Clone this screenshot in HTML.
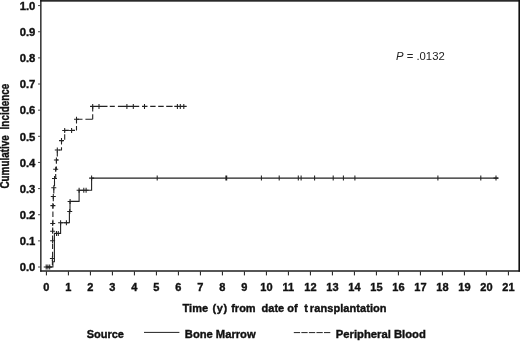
<!DOCTYPE html>
<html><head><meta charset="utf-8"><title>Cumulative Incidence</title>
<style>
html,body{margin:0;padding:0;background:#fff;}
body{width:520px;height:341px;overflow:hidden;position:relative;}
svg{display:block;position:absolute;left:0;top:0;}
text{font-family:"Liberation Sans",Arial,Helvetica,sans-serif;fill:#111;}
.b{font-weight:bold;font-size:11px;stroke:#111;stroke-width:0.38px;}
.p{font-size:11.3px;fill:#222;}
</style></head><body>
<svg width="520" height="341" viewBox="0 0 520 341">
<rect x="0" y="0" width="520" height="341" fill="#fff"/>

<g fill="#111">
<rect x="40.2" y="0" width="479.8" height="1.7" fill="#2a2a2a"/>
<rect x="518.4" y="0" width="1.6" height="271.7"/>
<rect x="40.2" y="0" width="1.3" height="271.7"/>
<rect x="40.2" y="270.3" width="479.8" height="1.4"/>
</g>
<g stroke="#333" stroke-width="0.9" fill="none">
<line x1="38" y1="267.00" x2="40.5" y2="267.00"/>
<line x1="38" y1="240.86" x2="40.5" y2="240.86"/>
<line x1="38" y1="214.72" x2="40.5" y2="214.72"/>
<line x1="38" y1="188.58" x2="40.5" y2="188.58"/>
<line x1="38" y1="162.44" x2="40.5" y2="162.44"/>
<line x1="38" y1="136.30" x2="40.5" y2="136.30"/>
<line x1="38" y1="110.16" x2="40.5" y2="110.16"/>
<line x1="38" y1="84.02" x2="40.5" y2="84.02"/>
<line x1="38" y1="57.88" x2="40.5" y2="57.88"/>
<line x1="38" y1="31.74" x2="40.5" y2="31.74"/>
<line x1="38" y1="5.60" x2="40.5" y2="5.60"/>
</g><g stroke="#151515" stroke-width="1" fill="none">
<line x1="46.40" y1="271.5" x2="46.40" y2="275.4"/>
<line x1="68.40" y1="271.5" x2="68.40" y2="275.4"/>
<line x1="90.40" y1="271.5" x2="90.40" y2="275.4"/>
<line x1="112.40" y1="271.5" x2="112.40" y2="275.4"/>
<line x1="134.40" y1="271.5" x2="134.40" y2="275.4"/>
<line x1="156.40" y1="271.5" x2="156.40" y2="275.4"/>
<line x1="178.40" y1="271.5" x2="178.40" y2="275.4"/>
<line x1="200.40" y1="271.5" x2="200.40" y2="275.4"/>
<line x1="222.40" y1="271.5" x2="222.40" y2="275.4"/>
<line x1="244.40" y1="271.5" x2="244.40" y2="275.4"/>
<line x1="266.40" y1="271.5" x2="266.40" y2="275.4"/>
<line x1="288.40" y1="271.5" x2="288.40" y2="275.4"/>
<line x1="310.40" y1="271.5" x2="310.40" y2="275.4"/>
<line x1="332.40" y1="271.5" x2="332.40" y2="275.4"/>
<line x1="354.40" y1="271.5" x2="354.40" y2="275.4"/>
<line x1="376.40" y1="271.5" x2="376.40" y2="275.4"/>
<line x1="398.40" y1="271.5" x2="398.40" y2="275.4"/>
<line x1="420.40" y1="271.5" x2="420.40" y2="275.4"/>
<line x1="442.40" y1="271.5" x2="442.40" y2="275.4"/>
<line x1="464.40" y1="271.5" x2="464.40" y2="275.4"/>
<line x1="486.40" y1="271.5" x2="486.40" y2="275.4"/>
<line x1="508.40" y1="271.5" x2="508.40" y2="275.4"/>
</g>
<g class="b" text-anchor="end" style="font-size:11.3px">
<text x="35.4" y="271.30">0.0</text>
<text x="35.4" y="245.16">0.1</text>
<text x="35.4" y="219.02">0.2</text>
<text x="35.4" y="192.88">0.3</text>
<text x="35.4" y="166.74">0.4</text>
<text x="35.4" y="140.60">0.5</text>
<text x="35.4" y="114.46">0.6</text>
<text x="35.4" y="88.32">0.7</text>
<text x="35.4" y="62.18">0.8</text>
<text x="35.4" y="36.04">0.9</text>
<text x="35.4" y="9.90">1.0</text>
</g>
<g class="b" text-anchor="middle">
<text x="46.40" y="291.2">0</text>
<text x="68.40" y="291.2">1</text>
<text x="90.40" y="291.2">2</text>
<text x="112.40" y="291.2">3</text>
<text x="134.40" y="291.2">4</text>
<text x="156.40" y="291.2">5</text>
<text x="178.40" y="291.2">6</text>
<text x="200.40" y="291.2">7</text>
<text x="222.40" y="291.2">8</text>
<text x="244.40" y="291.2">9</text>
<text x="266.40" y="291.2">10</text>
<text x="288.40" y="291.2">11</text>
<text x="310.40" y="291.2">12</text>
<text x="332.40" y="291.2">13</text>
<text x="354.40" y="291.2">14</text>
<text x="376.40" y="291.2">15</text>
<text x="398.40" y="291.2">16</text>
<text x="420.40" y="291.2">17</text>
<text x="442.40" y="291.2">18</text>
<text x="464.40" y="291.2">19</text>
<text x="486.40" y="291.2">20</text>
<text x="508.40" y="291.2">21</text>
</g>
<text class="b" transform="translate(9.4,188.6) rotate(-90)" textLength="53.4" lengthAdjust="spacingAndGlyphs" style="font-size:11.9px">Cumulative</text>
<text class="b" transform="translate(9.4,129.4) rotate(-90)" textLength="45.6" lengthAdjust="spacingAndGlyphs" style="font-size:11.9px">Incidence</text>
<text class="b" x="182.6" y="312.2">Time</text>
<text class="b" x="212.4" y="312.2" textLength="14.7" lengthAdjust="spacing">(y)</text>
<text class="b" x="231.2" y="312.2">from</text>
<text class="b" x="261.6" y="312.2">date</text>
<text class="b" x="287.3" y="312.2">of</text>
<text class="b" x="304.3" y="312.2" dx="0 1.9 0.06 0.06 0.06 0.06 0.06 0.06 0.06 0.06 0.06 0.06 0.06 0.06 0.06">transplantation</text>
<text class="p" x="396" y="59.5"><tspan font-style="italic">P</tspan> = .0132</text>
<text class="b" x="86.7" y="338.1">Source</text>
<line x1="144" y1="332.4" x2="179.4" y2="332.4" stroke="#222" stroke-width="1"/>
<text class="b" x="184.8" y="338.1" style="font-size:11.2px">Bone Marrow</text>
<line x1="293.8" y1="332.6" x2="331" y2="332.6" stroke="#222" stroke-width="1" stroke-dasharray="6.3 1.25"/>
<text class="b" x="335.8" y="338.1" style="font-size:11.25px">Peripheral Blood</text>
<path d="M46.2,267.0 H52.9 V261.8 H54.4 V233.4 H60.6 V222.7 H69.4 V211.5 H70.0 V201.4 H79.1 V190.3 H91.6 V178.1 H498.2" fill="none" stroke="#222" stroke-width="1.1"/>
<path d="M46.2,267.0 H52.4 V258.4 H52.6 V240.8 H52.6 V231.2 H52.7 V223.4 H52.9 V205.6 H53.3 V196.5 H53.8 V187.7 H54.5 V178.5 H55.7 V169.2 H56.4 V159.9 H57.3 V150.0 H61.5 V140.6 H64.7 V130.4 H75" fill="none" stroke="#222" stroke-width="1.1" stroke-dasharray="5.4 2.7"/>
<path d="M76.5,130.4L76.5,126.0M76.5,123.4L76.5,119.3M76.5,119.3L82.5,119.3M85.4,119.3L92.7,119.3M92.7,119.3L92.7,114.2M92.7,111.6L92.7,106.4M90.2,106.4L107.5,106.4M109.8,106.4L114.8,106.4M117.9,106.4L139.2,106.4M142.0,106.4L147.5,106.4M150.2,106.4L155.6,106.4M158.2,106.4L163.7,106.4M166.2,106.4L172.6,106.4M174.3,106.4L186.6,106.4" fill="none" stroke="#222" stroke-width="1.1"/>
<path d="M157.2,175.60v5M225.9,175.60v5M226.7,175.60v5M261.4,175.60v5M279.2,175.60v5M298.3,175.60v5M301.1,175.60v5M314.6,175.60v5M333.2,175.60v5M343.4,175.60v5M354.9,175.60v5M437.9,175.60v5M480.8,175.60v5M43.70,267.0h5M46.2,264.50v5M45.40,267.0h5M47.9,264.50v5M47.20,267.0h5M49.7,264.50v5M54.00,233.4h5M56.5,230.90v5M55.80,233.4h5M58.3,230.90v5M58.10,222.7h5M60.6,220.20v5M63.90,222.7h5M66.4,220.20v5M67.20,211.5h5M69.7,209.00v5M67.60,201.4h5M70.1,198.90v5M76.60,190.3h5M79.1,187.80v5M81.30,190.3h5M83.8,187.80v5M83.60,190.3h5M86.1,187.80v5M89.10,178.1h5M91.6,175.60v5M493.50,178.1h5M496.0,175.60v5M49.90,258.4h5M52.4,255.90v5M50.10,240.8h5M52.6,238.30v5M50.10,231.2h5M52.6,228.70v5M50.20,223.4h5M52.7,220.90v5M50.40,205.6h5M52.9,203.10v5M50.80,196.5h5M53.3,194.00v5M51.30,187.7h5M53.8,185.20v5M52.00,178.5h5M54.5,176.00v5M53.20,169.2h5M55.7,166.70v5M53.90,159.9h5M56.4,157.40v5M54.80,150.0h5M57.3,147.50v5M59.00,140.6h5M61.5,138.10v5M62.20,130.4h5M64.7,127.90v5M74.00,119.3h5M76.5,116.80v5M90.20,106.4h5M92.7,103.90v5M69.10,130.4h5M71.6,127.90v5M96.50,106.4h5M99,103.90v5M124.40,106.4h5M126.9,103.90v5M130.80,106.4h5M133.3,103.90v5M142.00,106.4h5M144.5,103.90v5M174.90,106.4h5M177.4,103.90v5M177.80,106.4h5M180.3,103.90v5M181.30,106.4h5M183.8,103.90v5" fill="none" stroke="#222" stroke-width="1.05"/>
</svg></body></html>
